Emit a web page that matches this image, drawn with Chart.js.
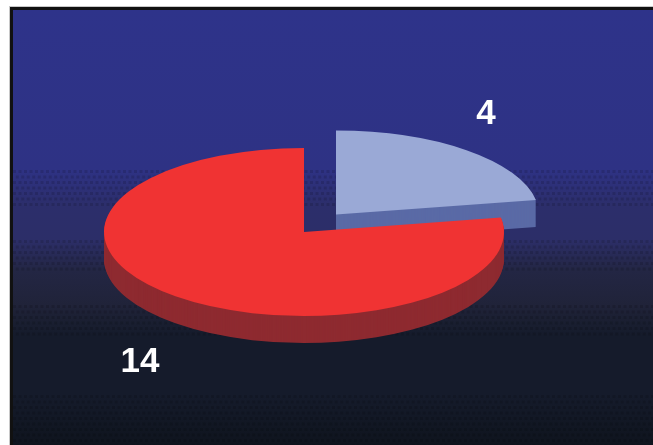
<!DOCTYPE html>
<html>
<head>
<meta charset="utf-8">
<style>
html,body{margin:0;padding:0;background:#fff;overflow:hidden}
#wrap{position:absolute;left:0;top:0;width:653px;height:445px;overflow:hidden}
#c{display:block;filter:blur(0.55px)}
</style>
<script src="https://cdn.jsdelivr.net/npm/chart.js@4"></script>
</head>
<body>
<div id="wrap"><canvas id="c" width="661" height="453"></canvas></div>
<script>
const categories = ['A', 'B'];
const values = [4, 14];
const topColors = ['#9aa9d6', '#f03333'];
const sideColors = ['#5a6aa6', '#8e2a30'];

const TILT = 0.42, DEPTH = 27;
const placement = [{x: 336, y: 214.5, sx: 1.015}, {x: 304, y: 232, sx: 1}];
const labelSpots = [{x: 486, y: 114}, {x: 140, y: 362}];
const bgStops = [[10, '#2e338a'], [170, '#2e3284'], [205, '#2c2e6b'], [240, '#2c2e68'], [270, '#232644'], [305, '#202339'], [335, '#151b2b'], [395, '#151b2b'], [453, '#0e131c']];
const ditherBands = [[170, 205], [240, 270], [305, 335], [395, 453]];

const pie3d = {
  id: 'pie3d',
  beforeDraw(chart) {
    const {ctx, width, height} = chart;
    ctx.save();
    ctx.fillStyle = '#fff';
    ctx.fillRect(0, 0, width, height);
    const g = ctx.createLinearGradient(0, 0, 0, height);
    bgStops.forEach(s => g.addColorStop(s[0] / height, s[1]));
    ctx.fillStyle = '#111';
    ctx.fillRect(10, 7, width - 10, height - 7);
    ctx.fillStyle = g;
    ctx.fillRect(13, 10, width - 13, height - 10);
    ctx.fillStyle = 'rgba(0,0,0,0.13)';
    ditherBands.forEach(b => {
      let row = 0;
      for (let y = b[0]; y < b[1]; y += 5.5, row++) {
        for (let x = 13 + (row % 2) * 2.75; x < width; x += 5.5) ctx.fillRect(x, y, 3, 3);
      }
    });
    ctx.fillStyle = '#c8c8c8';
    ctx.fillRect(9, 6, 1, height - 6);
    ctx.fillRect(9, 6, width - 9, 1);
    ctx.restore();
  },
  beforeDatasetDraw(chart, args) {
    const {ctx} = chart;
    const arcs = chart.getDatasetMeta(args.index).data;
    arcs.forEach((arc, i) => {
      const p = placement[i];
      const original = arc.options;
      const paint = (dy, color) => {
        ctx.save();
        ctx.translate(p.x, p.y + dy);
        ctx.scale(p.sx, TILT);
        ctx.translate(-arc.x, -arc.y);
        arc.options = Object.assign({}, original, {backgroundColor: color, borderWidth: 0});
        arc.draw(ctx);
        ctx.restore();
      };
      for (let d = DEPTH; d > 0; d--) paint(d, sideColors[i]);
      paint(0, topColors[i]);
      arc.options = original;
    });
    return false;
  },
  afterDatasetsDraw(chart) {
    const {ctx} = chart;
    ctx.save();
    ctx.fillStyle = '#fff';
    ctx.font = 'bold 35px "Liberation Sans", Arial, sans-serif';
    ctx.textAlign = 'center';
    ctx.textBaseline = 'middle';
    values.forEach((v, i) => ctx.fillText(String(v), labelSpots[i].x, labelSpots[i].y));
    ctx.restore();
  }
};

new Chart(document.getElementById('c'), {
  type: 'pie',
  data: {
    labels: categories,
    datasets: [{data: values, backgroundColor: topColors, borderWidth: 0}]
  },
  options: {
    responsive: false,
    animation: false,
    radius: 200,
    layout: {padding: 0},
    plugins: {legend: {display: false}, tooltip: {enabled: false}}
  },
  plugins: [pie3d]
});
</script>
</body>
</html>
